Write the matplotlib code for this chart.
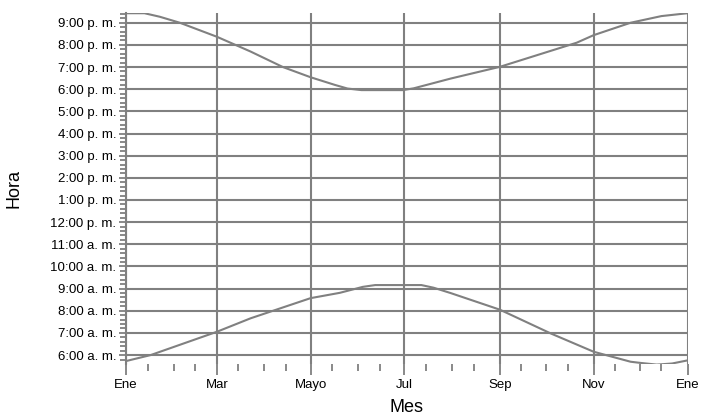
import datetime as dt

import matplotlib

matplotlib.use("Agg")
import matplotlib.pyplot as plt  # noqa: E402
import matplotlib.dates as mdates  # noqa: E402
from matplotlib.ticker import FixedLocator, AutoMinorLocator  # noqa: E402

YEAR = 2023

# day of year (0 = 1 Jan) and hour of day
sunset_days = [0, 12, 22, 35, 59, 81, 102, 120, 136, 144, 153, 180, 187, 211,
               243, 293, 304, 328, 348, 365]
sunset_hours = [21.43, 21.43, 21.27, 21.0, 20.37, 19.70, 19.0, 18.54, 18.19,
                18.03, 17.96, 17.96, 18.04, 18.48, 19.01, 20.10, 20.44, 21.0,
                21.30, 21.43]

sunrise_days = [0, 16, 59, 81, 120, 139, 154, 162, 192, 200, 211, 243, 276,
                304, 328, 334, 345, 355, 365]
sunrise_hours = [5.73, 6.0, 7.05, 7.66, 8.57, 8.81, 9.08, 9.16, 9.16, 9.04,
                 8.8, 8.05, 6.98, 6.15, 5.70, 5.65, 5.57, 5.62, 5.76]

month_labels = ["Ene", "Mar", "Mayo", "Jul", "Sep", "Nov", "Ene"]
label_months = [(YEAR, 1), (YEAR, 3), (YEAR, 5), (YEAR, 7), (YEAR, 9),
                (YEAR, 11), (YEAR + 1, 1)]

GREY = "#808080"


def to_dates(days):
    start = dt.datetime(YEAR, 1, 1)
    return [start + dt.timedelta(days=d) for d in days]


def hour_label(h):
    suffix = "a. m." if h < 12 else "p. m."
    hh = h % 12 or 12
    return f"{hh}:00 {suffix}"


plt.rcParams["font.family"] = ["Liberation Sans", "DejaVu Sans"]

fig = plt.figure(figsize=(7.02, 4.17), dpi=100)
ax = fig.add_axes([126 / 702, 1 - 363.5 / 417, 561.5 / 702, 350.5 / 417])

ax.plot(to_dates(sunset_days), sunset_hours, color=GREY, linewidth=1.5)
ax.plot(to_dates(sunrise_days), sunrise_hours, color=GREY, linewidth=1.5)

ax.set_xlim(dt.datetime(YEAR, 1, 1), dt.datetime(YEAR + 1, 1, 1))
ax.set_ylim(5.62, 21.44)

major_x = [mdates.date2num(dt.datetime(y, m, 1)) for y, m in label_months]
minor_x = []
for m in range(1, 13):
    minor_x.append(mdates.date2num(dt.datetime(YEAR, m, 1)))
    minor_x.append(mdates.date2num(dt.datetime(YEAR, m, 15)))
ax.xaxis.set_major_locator(FixedLocator(major_x))
ax.xaxis.set_minor_locator(FixedLocator(minor_x))
ax.set_xticklabels(month_labels)

hours = list(range(6, 22))
ax.set_yticks(hours)
ax.set_yticklabels([hour_label(h) for h in hours])
ax.yaxis.set_minor_locator(AutoMinorLocator(5))

for s in ["top", "right", "bottom"]:
    ax.spines[s].set_visible(False)
ax.spines["left"].set_color(GREY)
ax.spines["left"].set_linewidth(1.5)

ax.tick_params(axis="x", which="major", length=8, width=1.3, color=GREY,
               labelsize=9.5, pad=3)
ax.tick_params(axis="x", which="minor", length=5, width=1.3, color=GREY)
ax.tick_params(axis="y", which="major", length=5, width=1.3, color=GREY,
               labelsize=9.5, pad=2)
ax.tick_params(axis="y", which="minor", length=4, width=1.3, color=GREY)

ax.grid(True, which="major", color=GREY, linewidth=1.5)
ax.set_axisbelow(True)

ax.set_xlabel("Mes", fontsize=13, labelpad=6)
ax.set_ylabel("Hora", fontsize=13, labelpad=20)

fig.savefig("out.png", dpi=100)
